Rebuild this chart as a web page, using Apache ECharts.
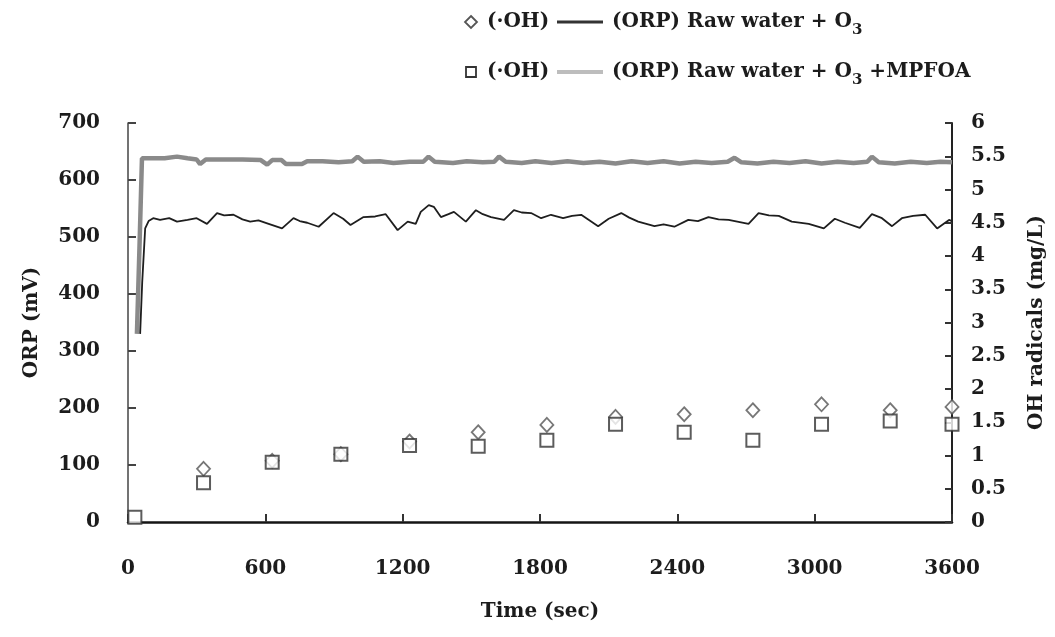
<!DOCTYPE html>
<html>
<head>
<meta charset="utf-8">
<script src="https://cdn.jsdelivr.net/npm/echarts@6/dist/echarts.min.js"></script>
<style>
html,body{margin:0;padding:0;background:#fff;}
#chart{width:1055px;height:637px;}
</style>
</head>
<body>
<div id="chart"></div>
<script>
// ORP, raw water + O3 (black line)
const orpRawTime = [53, 62, 75, 90, 110, 140, 180, 214, 260, 300, 345, 389, 420, 461, 500, 534, 570, 608, 673, 723, 750, 783, 833, 898, 940, 972, 1029, 1080, 1126, 1178, 1222, 1257, 1279, 1314, 1336, 1367, 1400, 1424, 1476, 1520, 1550, 1586, 1643, 1686, 1720, 1761, 1805, 1848, 1901, 1940, 1980, 2054, 2100, 2155, 2190, 2229, 2300, 2340, 2387, 2448, 2490, 2536, 2580, 2624, 2711, 2755, 2800, 2843, 2900, 2974, 3040, 3088, 3132, 3197, 3250, 3294, 3338, 3381, 3430, 3483, 3535, 3587, 3600];
const orpRawMv   = [330, 420, 515, 528, 533, 530, 533, 527, 530, 533, 523, 542, 538, 539, 531, 527, 529, 524, 515, 533, 528, 525, 518, 542, 532, 521, 535, 536, 540, 512, 527, 523, 544, 556, 553, 535, 540, 544, 527, 547, 540, 535, 530, 547, 543, 542, 533, 539, 533, 537, 539, 519, 532, 542, 534, 527, 519, 522, 518, 530, 528, 535, 531, 530, 523, 542, 538, 537, 527, 523, 515, 532, 525, 516, 540, 533, 519, 533, 537, 539, 515, 530, 528];

// ORP, raw water + O3 + MPFOA (grey line)
const orpMpfoaTime = [39, 50, 61, 100, 160, 214, 260, 300, 315, 340, 420, 500, 580, 608, 630, 670, 690, 760, 783, 850, 920, 980, 1003, 1030, 1100, 1160, 1230, 1290, 1313, 1340, 1420, 1480, 1550, 1600, 1621, 1650, 1720, 1780, 1850, 1920, 1990, 2060, 2130, 2200, 2270, 2340, 2410, 2480, 2550, 2620, 2650, 2680, 2750, 2820, 2890, 2960, 3030, 3100, 3170, 3230, 3250, 3280, 3350, 3420, 3490, 3550, 3600];
const orpMpfoaMv   = [330, 480, 638, 638, 638, 641, 638, 636, 628, 636, 636, 636, 635, 627, 635, 635, 628, 628, 633, 633, 631, 633, 641, 632, 633, 630, 632, 632, 641, 632, 630, 633, 631, 632, 641, 632, 630, 633, 630, 633, 630, 632, 629, 633, 630, 633, 629, 632, 630, 632, 639, 631, 629, 632, 630, 633, 629, 632, 630, 632, 641, 631, 629, 632, 630, 632, 631];

// OH radicals (mg/L)
const ohTime   = [30, 330, 630, 930, 1230, 1530, 1830, 2130, 2430, 2730, 3030, 3330, 3600];
const ohRaw    = [null, 0.80, 0.92, 1.02, 1.21, 1.35, 1.46, 1.58, 1.62, 1.68, 1.77, 1.68, 1.73];
const ohMpfoa  = [0.07, 0.59, 0.90, 1.02, 1.15, 1.14, 1.23, 1.47, 1.35, 1.23, 1.47, 1.52, 1.47];

// tick settings
const xTicks = {min: 0, max: 3600, interval: 600};
const orpTicks = {min: 0, max: 700, interval: 100};
const ohTicks = {min: 0, max: 6, interval: 0.5};

const FONT = 'DejaVu Serif';
const TXT = '#1c1c1c';

const pairs = (xs, ys) => xs.map((x, i) => [x, ys[i]]);

const chart = echarts.init(document.getElementById('chart'), null, {renderer: 'canvas'});

const legendY1 = 22, legendY2 = 72;
const labelStyle = {fontFamily: FONT, fontSize: 20, fontWeight: 'bold', color: TXT};
const nameStyle = {fontFamily: FONT, fontSize: 20, fontWeight: 'bold', color: TXT};
const legRich = {
  n: {fontFamily: FONT, fontSize: 20, fontWeight: 'bold', color: TXT, lineHeight: 32, verticalAlign: 'middle'},
  s: {fontFamily: FONT, fontSize: 15, fontWeight: 'bold', color: TXT, lineHeight: 20, verticalAlign: 'bottom'}
};
const legText = (x, y, str) => ({
  type: 'text', x: x, y: y,
  style: {text: str, rich: legRich, fill: TXT, verticalAlign: 'middle', align: 'left'}
});

const option = {
  backgroundColor: '#ffffff',
  animation: false,
  grid: {left: 128, right: 102, top: 123, bottom: 115, containLabel: false},
  xAxis: {
    type: 'value', min: xTicks.min, max: xTicks.max, interval: xTicks.interval,
    name: 'Time (sec)', nameLocation: 'middle', nameGap: 80,
    nameTextStyle: nameStyle,
    axisLine: {show: true, onZero: false, lineStyle: {color: '#151515', width: 2.5}},
    axisTick: {show: true, inside: true, length: 8, lineStyle: {color: '#333', width: 2}},
    axisLabel: Object.assign({margin: 37, formatter: v => String(v)}, labelStyle),
    splitLine: {show: false}
  },
  yAxis: [{
    type: 'value', min: orpTicks.min, max: orpTicks.max, interval: orpTicks.interval,
    name: 'ORP (mV)', nameLocation: 'middle', nameGap: 86,
    nameTextStyle: nameStyle,
    axisLine: {show: true, lineStyle: {color: '#444', width: 1.5}},
    axisTick: {show: true, inside: true, length: 8, lineStyle: {color: '#444', width: 2}},
    axisLabel: Object.assign({margin: 28, formatter: v => String(v)}, labelStyle),
    splitLine: {show: false}
  }, {
    type: 'value', position: 'right', min: ohTicks.min, max: ohTicks.max, interval: ohTicks.interval,
    name: 'OH radicals (mg/L)', nameLocation: 'middle', nameGap: 75, nameRotate: 90,
    nameTextStyle: nameStyle,
    axisLine: {show: true, lineStyle: {color: '#222', width: 2}},
    axisTick: {show: true, inside: true, length: 7, lineStyle: {color: '#333', width: 2}},
    axisLabel: Object.assign({margin: 19, formatter: v => String(v)}, labelStyle),
    splitLine: {show: false}
  }],
  series: [{
    name: '(ORP) Raw water + O3 +MPFOA', type: 'line', yAxisIndex: 0,
    data: pairs(orpMpfoaTime, orpMpfoaMv), showSymbol: false,
    lineStyle: {color: '#8a8a8a', width: 4.5}, z: 2
  }, {
    name: '(ORP) Raw water + O3', type: 'line', yAxisIndex: 0,
    data: pairs(orpRawTime, orpRawMv), showSymbol: false,
    lineStyle: {color: '#1e1e1e', width: 1.8}, z: 3
  }, {
    name: '(·OH) Raw water + O3', type: 'scatter', yAxisIndex: 1,
    data: pairs(ohTime, ohRaw).filter(p => p[1] !== null), symbol: 'diamond', symbolSize: [13, 14],
    itemStyle: {color: '#ffffff', borderColor: '#555', borderWidth: 1.8}, z: 4
  }, {
    name: '(·OH) Raw water + O3 +MPFOA', type: 'scatter', yAxisIndex: 1,
    data: pairs(ohTime, ohMpfoa), symbol: 'rect', symbolSize: 13,
    itemStyle: {color: '#ffffff', borderColor: '#333', borderWidth: 2}, z: 5
  }],
  graphic: [
    {type: 'polygon', shape: {points: [[471, 16], [477, 22], [471, 28], [465, 22]]}, style: {fill: '#fff', stroke: '#555', lineWidth: 1.8}},
    legText(487, legendY1, '{n|(·OH)}'),
    {type: 'line', shape: {x1: 557, y1: legendY1, x2: 603, y2: legendY1}, style: {stroke: '#333', lineWidth: 3}},
    legText(612, legendY1, '{n|(ORP) Raw water + O}{s|3}'),
    {type: 'rect', shape: {x: 466, y: legendY2 - 5, width: 10, height: 10}, style: {fill: '#fff', stroke: '#333', lineWidth: 1.8}},
    legText(487, legendY2, '{n|(·OH)}'),
    {type: 'line', shape: {x1: 557, y1: legendY2, x2: 603, y2: legendY2}, style: {stroke: '#bdbdbd', lineWidth: 4}},
    legText(612, legendY2, '{n|(ORP) Raw water + O}{s|3}{n| +MPFOA}')
  ]
};
chart.setOption(option);
</script>
</body>
</html>
